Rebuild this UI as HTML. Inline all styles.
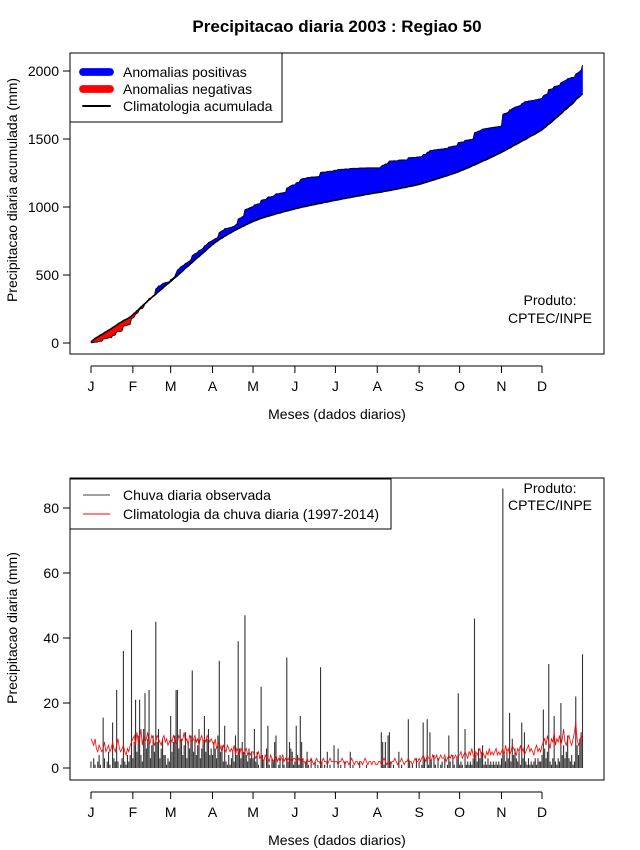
<!DOCTYPE html>
<html><head><meta charset="utf-8"><style>
body{margin:0;background:#fff}
svg{display:block;font-family:"Liberation Sans",sans-serif}
</style></head><body>
<svg id="chart" width="640" height="850" viewBox="0 0 640 850" xmlns="http://www.w3.org/2000/svg">
<rect width="640" height="850" fill="#fff"/>
<text x="337" y="32" text-anchor="middle" font-size="17" font-weight="bold">Precipitacao diaria 2003 : Regiao 50</text>
<g id="topPanel"></g>
<g id="botPanel"></g>
</svg>
<script>
const months = ["J","F","M","A","M","J","J","A","S","O","N","D"];
const monthStartDays = [1,32,60,91,121,152,182,213,244,274,305,335];
const topTicks = [0,500,1000,1500,2000];
const botTicks = [0,20,40,60,80];
const obsJan=[2,0,3,1,0,2,4,1,0,15.5,3,0,2,5,1,0,14,3,2,24,2,0,1,3,36,2,1,4,2,4,42.5];
const obsFeb=[3,8,21,5,10,21,4,2,12,23,6,9,24,3,7,10,5,45,8,12,3,6,9,4,4,1,3,2];
const obsMar=[16,5,8,10,24,24,6,12,9,4,7,11,3,8,6,10,30,5,9,4,7,12,3,6,8,16,5,9,12,4,6];
const obsApr=[4,8,6,3,10,33,5,7,2,13,2,1,4,1,3,5,2,10,4,39,6,3,8,5,47,4,2,6,3,5];
const obsMay=[3,12,2,5,1,0,25,4,2,0,6,13,1,0,3,2,8,10,0,1,4,0,3,1,0,34,2,8,6,5,1];
const obsJun=[2,13,4,1,16,8,3,0,2,5,1,0,3,0,0,2,0,1,0,31,2,0,1,0,5,0,1,0,0,7];
const obsJul=[0,0,6,0,1,0,0,2,0,0,0,5,0,1,0,0,0,0,2,0,0,0,0,1,0,0,0,0,0,0,0];
const obsAug=[0,0,0,11,8,1,8,0,10,11,2,0,1,0,0,0,5,0,1,0,0,0,0,15,2,0,1,0,0,3,0];
const obsSep=[2,0,1,14,3,0,15,1,11,2,0,4,1,0,3,0,1,2,0,3,0,1,10,2,0,4,1,0,3,23];
const obsOct=[1,2,1,0,12,1,2,1,2,1,3,46,4,2,6,3,5,7,1,2,1,3,1,2,1,2,1,2,1,2,1];
const obsNov=[3,86,4,2,5,3,17,2,9,4,6,3,2,5,1,14,3,11,2,1,3,1,2,1,2,3,1,3,2,2];
const obsDec=[4,18,6,3,5,32,2,1,3,16,2,1,3,2,20,4,7,3,5,10,3,2,4,1,2,22,7,4,9,11,35];
const climJan=[9,8,7,9,6,5,7,6,5,6,8,5,6,7,5,6,8,6,5,7,9,6,5,6,7,5,4,6,5,7,8];
const climFeb=[9,10,7,11,8,9,12,7,10,8,9,11,7,8,10,9,7,8,10,9,8,7,9,10,8,9,7,8];
const climMar=[9,8,10,9,7,8,10,9,8,9,11,8,9,7,10,9,8,9,10,8,9,7,9,10,8,9,8,10,9,8,9];
const climApr=[8,7,9,6,7,8,6,5,7,6,5,7,6,5,6,5,7,4,6,5,4,6,5,4,5,6,4,5,4,5];
const climMay=[5,4,3,4,5,3,4,3,2,4,3,3,2,4,3,2,3,4,2,3,2,3,4,2,3,2,3,2,3,2,3];
const climJun=[3,2,2,3,2,3,2,2,1,3,2,2,3,2,1,2,3,2,2,1,2,3,2,2,1,2,3,2,2,2];
const climJul=[2,2,1,2,2,3,2,1,2,2,1,2,3,2,1,2,2,1,2,2,1,2,3,2,1,2,2,1,2,2,1];
const climAug=[1,2,2,1,2,3,2,1,2,2,1,2,2,3,2,1,2,2,3,2,1,2,2,3,2,2,1,2,3,2,2];
const climSep=[3,2,3,4,3,2,4,3,3,2,4,3,3,4,2,3,4,3,3,4,2,3,4,3,4,3,3,4,3,4];
const climOct=[4,5,3,4,5,4,3,5,4,6,4,3,5,4,5,6,4,5,4,3,5,4,6,4,5,4,5,6,4,5,4];
const climNov=[5,6,4,7,5,6,4,5,7,6,5,4,6,5,7,5,6,4,5,6,7,5,6,5,4,6,7,5,6,5];
const climDec=[7,8,9,7,10,8,6,9,8,11,7,9,8,10,7,9,12,8,7,9,10,8,7,9,11,14,9,7,8,10,9];

const obs=[].concat(obsJan,obsFeb,obsMar,obsApr,obsMay,obsJun,obsJul,obsAug,obsSep,obsOct,obsNov,obsDec);
const clim=[].concat(climJan,climFeb,climMar,climApr,climMay,climJun,climJul,climAug,climSep,climOct,climNov,climDec);
const cumObs=[],cumClim=[];
let accA=0,accB=0;
for(let i=0;i<obs.length;i++){accA+=obs[i];accB+=clim[i];cumObs.push(accA);cumClim.push(accB);}

const NS="http://www.w3.org/2000/svg";
function mk(parent,tag,attrs,text){const e=document.createElementNS(NS,tag);for(const k in attrs)e.setAttribute(k,attrs[k]);if(text!==undefined)e.textContent=text;parent.appendChild(e);return e;}
const xDay=d=>91+(d-1)*1.3503;
const yTop=v=>343-v*0.136;
const yBot=v=>768-v*3.25;

function frame(g,y0,y1,yFn,ticks,axisY,yTitle,yTitleY,name){
  let e=mk(g,"rect",{x:70,y:y0,width:534,height:y1-y0,fill:"none",stroke:"#000","stroke-width":1});
  
  
  mk(g,"line",{x1:70,x2:70,y1:yFn(ticks[0]),y2:yFn(ticks[ticks.length-1]),stroke:"#000"});
  ticks.forEach(t=>{
    mk(g,"line",{x1:63,x2:70,y1:yFn(t),y2:yFn(t),stroke:"#000"});
    const tl=mk(g,"text",{x:59,y:yFn(t)+5,"text-anchor":"end","font-size":14},String(t));
    
    
  });
  mk(g,"line",{x1:xDay(1),x2:xDay(monthStartDays[11]),y1:axisY,y2:axisY,stroke:"#000"});
  months.forEach((m,i)=>{
    const x=xDay(monthStartDays[i]);
    mk(g,"line",{x1:x,x2:x,y1:axisY,y2:axisY+7,stroke:"#000"});
    const tl=mk(g,"text",{x:x,y:axisY+25,"text-anchor":"middle","font-size":14},m);
    
    
  });
  e=mk(g,"text",{x:337,y:axisY+53,"text-anchor":"middle","font-size":14},"Meses (dados diarios)");
  
  
  e=mk(g,"text",{x:0,y:0,"text-anchor":"middle","font-size":14,transform:`translate(17,${yTitleY}) rotate(-90)`},yTitle);
  
  
}

const topG=document.getElementById("topPanel");
for(let i=0;i<obs.length-1;i++){
  const pos=(cumObs[i]+cumObs[i+1])>=(cumClim[i]+cumClim[i+1]);
  const p=`${xDay(i+1)},${yTop(cumObs[i])} ${xDay(i+2)},${yTop(cumObs[i+1])} ${xDay(i+2)},${yTop(cumClim[i+1])} ${xDay(i+1)},${yTop(cumClim[i])}`;
  const e=mk(topG,"polygon",{points:p,fill:pos?"#0000ff":"#ff0000",stroke:pos?"#0000ff":"#ff0000","stroke-width":0.6});
  
  
}
let pts=cumObs.map((v,i)=>xDay(i+1)+","+yTop(v)).join(" ");
let el=mk(topG,"polyline",{points:pts,fill:"none",stroke:"#000","stroke-width":0.8});


pts=cumClim.map((v,i)=>xDay(i+1)+","+yTop(v)).join(" ");
el=mk(topG,"polyline",{points:pts,fill:"none",stroke:"#000","stroke-width":1.6});


frame(topG,53,354,yTop,topTicks,366,"Precipitacao diaria acumulada (mm)",190,"top");
el=mk(topG,"rect",{x:70,y:53,width:212,height:69,fill:"#fff",stroke:"#000"});


[["Anomalias positivas","#0000ff",6,72],["Anomalias negativas","#ff0000",6,89],["Climatologia acumulada","#000",1.5,106]].forEach(r=>{
  mk(topG,"line",{x1:83,x2:110,y1:r[3],y2:r[3],stroke:r[1],"stroke-width":r[2]*1.3,"stroke-linecap":"round"});
  const t=mk(topG,"text",{x:123,y:r[3]+5,"font-size":14},r[0]);
  
  
});
el=mk(topG,"text",{x:550,y:305,"text-anchor":"middle","font-size":14},"Produto:");


el=mk(topG,"text",{x:550,y:323,"text-anchor":"middle","font-size":14},"CPTEC/INPE");



const botG=document.getElementById("botPanel");
obs.forEach((v,i)=>{
  const x=xDay(i+1);
  const e=mk(botG,"line",{x1:x,x2:x,y1:yBot(0),y2:yBot(v),stroke:"#333","stroke-width":1.1});
  
  
});
pts=clim.map((v,i)=>xDay(i+1)+","+yBot(v)).join(" ");
el=mk(botG,"polyline",{points:pts,fill:"none",stroke:"#ff0000","stroke-width":0.8});


frame(botG,478,780,yBot,botTicks,792,"Precipitacao diaria (mm)",628,"bottom");
el=mk(botG,"rect",{x:70,y:479,width:321,height:50,fill:"#fff",stroke:"#000"});


[["Chuva diaria observada","#404040",495],["Climatologia da chuva diaria (1997-2014)","#ff0000",514]].forEach(r=>{
  mk(botG,"line",{x1:83,x2:110,y1:r[2],y2:r[2],stroke:r[1],"stroke-width":1});
  const t=mk(botG,"text",{x:123,y:r[2]+5,"font-size":14},r[0]);
  
  
});
el=mk(botG,"text",{x:550,y:493,"text-anchor":"middle","font-size":14},"Produto:");


el=mk(botG,"text",{x:550,y:510,"text-anchor":"middle","font-size":14},"CPTEC/INPE");


</script>
</body></html>
